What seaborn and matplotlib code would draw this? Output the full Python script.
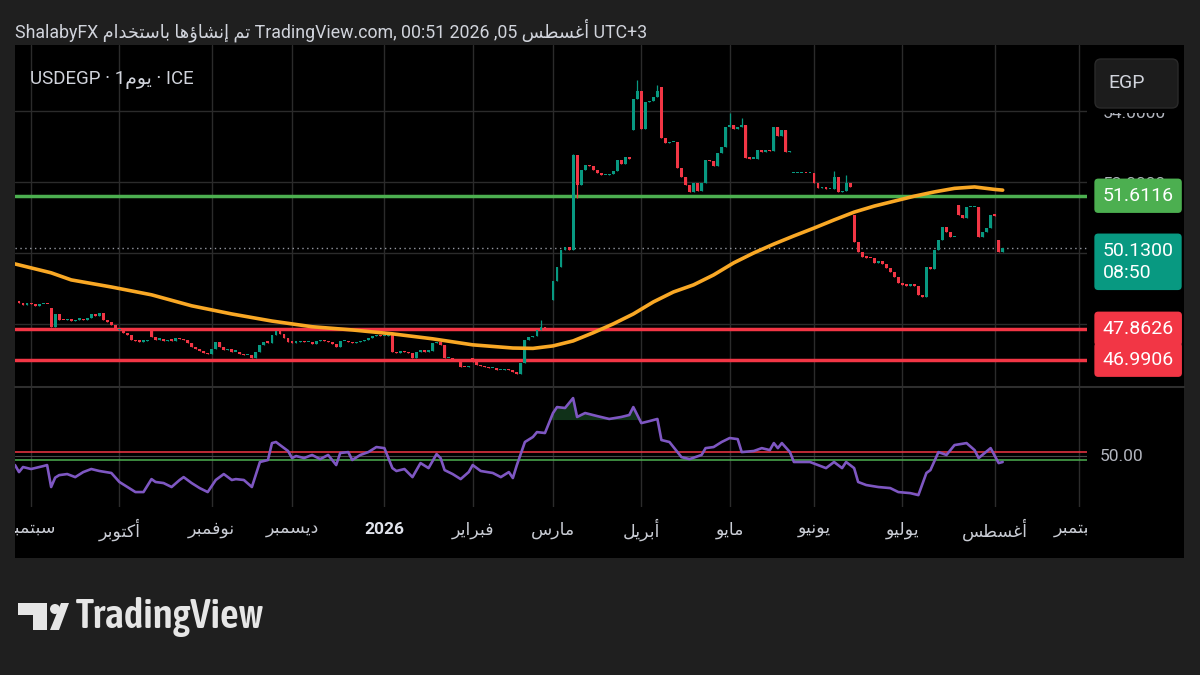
import numpy as np
import pandas as pd
import matplotlib
matplotlib.use("Agg")
import matplotlib.pyplot as plt
import matplotlib.patches as mpatches
from matplotlib import transforms
import seaborn as sns

# ---------------- data ----------------
start_day = "2025-08-27"
closes = [
    48.60, 48.52, 48.58, 48.55, 48.50, 48.55, 48.56, 48.55,
    47.90, 48.28, 48.12, 48.10, 48.14, 48.08, 48.12, 48.15, 48.10, 48.18,
    48.28, 48.22, 48.30, 48.10, 48.06,
    47.98, 47.83, 47.85, 47.75, 47.70, 47.55, 47.52, 47.50, 47.52, 47.55,
    47.62, 47.56, 47.58, 47.52, 47.55, 47.53, 47.60, 47.58, 47.55,
    47.45, 47.35, 47.30, 47.25, 47.18, 47.15,
    47.30, 47.48, 47.35, 47.27, 47.30, 47.22, 47.22, 47.15, 47.12, 47.12, 47.04,
    47.22, 47.40, 47.50, 47.47, 47.70, 47.80, 47.72, 47.60, 47.50,
    47.47, 47.48, 47.52, 47.48, 47.48, 47.42, 47.52, 47.55, 47.52, 47.48,
    47.42, 47.35, 47.52, 47.52, 47.48, 47.45, 47.48, 47.52, 47.55, 47.60,
    47.65, 47.70, 47.66, 47.66, 47.68,
    47.20, 47.18, 47.25, 47.20, 47.17, 47.04, 47.22, 47.26, 47.22, 47.24,
    47.46, 47.50, 47.40, 47.04, 47.04, 47.00, 46.98, 46.79, 46.78, 46.82,
    46.93, 46.85, 46.80, 46.78, 46.76, 46.76, 46.70, 46.70, 46.74, 46.70,
    46.65, 46.60, 46.90, 47.55, 47.63, 47.66, 47.83, 47.92, 47.85, 47.83,
    49.20, 49.60, 50.08, 50.17, 50.08, 52.75, 51.92, 52.34, 52.48, 52.45,
    52.34, 52.25, 52.20, 52.20, 52.22, 52.30, 52.62, 52.50, 52.70, 52.66,
    54.35, 54.55, 53.50, 54.25, 54.28, 54.40, 54.55, 53.24, 53.10, 53.12,
    53.13, 52.39, 52.15, 51.92, 51.72, 51.97, 51.74, 51.97, 52.62, 52.58,
    52.45, 52.81, 52.98, 53.55, 53.60, 53.50, 53.55, 53.60, 52.68, 52.66,
    52.66, 52.90, 52.85, 52.90, 52.88, 53.55, 53.30, 53.46, 52.85, 52.88,
    52.25, 52.25, 52.26, 52.25, 52.25, 51.97, 51.83, 51.85, 51.80, 51.80,
    52.15, 51.72, 51.75, 51.97, 51.85, 50.31, 50.03, 49.89, 49.87, 49.86,
    49.72, 49.76, 49.68, 49.58, 49.47, 49.33, 49.15, 49.10, 49.08, 49.10,
    49.08, 48.82, 48.77, 49.60, 49.56, 50.08, 50.37, 50.73, 50.60, 50.45,
    50.45, 51.08, 50.99, 51.30, 51.30, 51.30, 50.45, 50.60, 50.70, 51.07,
    51.05, 50.03, 50.13,
]
first_open = 48.62
gap_open = {8: 48.45, 33: 47.82, 113: 47.03, 133: 48.68, 153: 53.46,
            160: 54.68, 193: 52.25, 198: 52.25, 208: 51.07, 234: 51.35, 244: 50.37}
wick_high = {130: 48.10, 138: 52.80, 154: 54.87, 159: 54.73, 177: 53.95,
             180: 53.80, 203: 52.30, 206: 52.20}
wick_low = {139: 51.55}

ma_pos = [-1, 8, 13, 23, 33, 43, 53, 63, 73, 83, 93, 103, 113, 123, 128, 133,
          138, 143, 148, 153, 158, 163, 168, 173, 178, 183, 188, 193, 198, 203,
          208, 213, 218, 223, 228, 233, 238, 243, 245]
ma_val = [49.69, 49.44, 49.24, 49.04, 48.82, 48.51, 48.28, 48.08, 47.92, 47.83,
          47.72, 47.58, 47.41, 47.32, 47.31, 47.38, 47.52, 47.75, 48.00, 48.28,
          48.62, 48.90, 49.10, 49.38, 49.72, 50.00, 50.25, 50.48, 50.70, 50.93,
          51.15, 51.32, 51.46, 51.60, 51.72, 51.82, 51.86, 51.79, 51.77]

rsi_pos = [-1, 0, 1, 3, 6, 7, 8, 9, 10, 12, 14, 16, 18, 20, 23, 25, 27, 29, 31,
           33, 34, 36, 38, 40, 41, 43, 45, 47, 49, 51, 53, 54, 56, 58, 60, 62,
           63, 64, 67, 68, 69, 71, 73, 75, 77, 79, 80, 82, 83, 85, 87, 89, 91,
           93, 94, 96, 98, 100, 102, 104, 105, 106, 108, 110, 112, 113, 115,
           118, 120, 122, 123, 124, 126, 128, 129, 131, 133, 134, 136, 138,
           139, 141, 144, 147, 150, 152, 153, 155, 157, 159, 160, 162, 164,
           165, 167, 170, 171, 173, 175, 177, 179, 180, 183, 185, 187, 188,
           189, 190, 192, 193, 197, 199, 201, 203, 205, 206, 208, 209, 211,
           214, 217, 219, 222, 224, 226, 227, 229, 231, 233, 236, 238, 239,
           242, 244, 245]
rsi_val = [45.0, 41.1, 43.9, 42.8, 44.4, 45.0, 32.8, 38.0, 39.4, 40.0, 38.3,
           41.1, 42.8, 41.7, 40.6, 35.6, 32.8, 30.0, 30.0, 37.2, 35.6, 35.0,
           32.8, 36.7, 38.3, 35.0, 32.2, 30.0, 36.7, 40.0, 36.7, 37.2, 36.7,
           32.8, 46.7, 47.8, 57.2, 57.8, 52.8, 48.9, 50.0, 48.9, 50.6, 48.3,
           50.6, 45.0, 51.7, 52.2, 47.8, 50.6, 52.2, 55.0, 54.4, 43.3, 41.7,
           42.8, 38.3, 46.1, 43.3, 51.1, 48.9, 42.2, 40.0, 37.2, 41.1, 45.0,
           41.7, 40.6, 38.3, 41.1, 37.8, 45.0, 57.8, 60.6, 63.3, 62.8, 73.9,
           77.2, 76.7, 82.2, 71.7, 73.9, 72.2, 70.6, 71.7, 72.8, 77.2, 68.3,
           69.4, 70.6, 58.9, 57.8, 52.2, 49.4, 48.3, 50.6, 54.4, 55.0, 57.8,
           60.0, 59.4, 52.2, 52.8, 54.4, 53.3, 57.2, 54.4, 57.2, 52.2, 46.7,
           46.7, 45.0, 43.3, 46.7, 43.3, 46.7, 43.3, 35.6, 33.9, 32.8, 32.2,
           30.0, 29.4, 28.3, 40.6, 42.2, 52.2, 50.6, 56.1, 57.2, 53.3, 48.9,
           54.4, 46.1, 46.7]

level_green = 51.6116
level_red = [47.8626, 46.9906]
last_price = 50.13
last_time = "08:50"
price_grid = [54, 52, 50, 48]
price_labels = [54, 52]          # 50 and 48 sit fully under the price boxes
rsi_bands = {"red": 52.4, "mid": 50.0, "green": 47.8}
month_names = ["سبتمبر", "أكتوبر", "نوفمبر", "ديسمبر", "2026", "فبراير", "مارس",
               "أبريل", "مايو", "يونيو", "يوليو", "أغسطس", "سبتمبر"]

# ---------------- arabic shaping (matplotlib has no bidi) ----------------
FORMS = {
    "ا": ("\uFE8D", "\uFE8E", None, None), "أ": ("\uFE83", "\uFE84", None, None),
    "إ": ("\uFE87", "\uFE88", None, None), "ؤ": ("\uFE85", "\uFE86", None, None),
    "ب": ("\uFE8F", "\uFE90", "\uFE91", "\uFE92"), "ت": ("\uFE95", "\uFE96", "\uFE97", "\uFE98"),
    "خ": ("\uFEA5", "\uFEA6", "\uFEA7", "\uFEA8"), "د": ("\uFEA9", "\uFEAA", None, None),
    "ر": ("\uFEAD", "\uFEAE", None, None), "س": ("\uFEB1", "\uFEB2", "\uFEB3", "\uFEB4"),
    "ش": ("\uFEB5", "\uFEB6", "\uFEB7", "\uFEB8"), "ط": ("\uFEC1", "\uFEC2", "\uFEC3", "\uFEC4"),
    "غ": ("\uFECD", "\uFECE", "\uFECF", "\uFED0"), "ف": ("\uFED1", "\uFED2", "\uFED3", "\uFED4"),
    "ك": ("\uFED9", "\uFEDA", "\uFEDB", "\uFEDC"), "ل": ("\uFEDD", "\uFEDE", "\uFEDF", "\uFEE0"),
    "م": ("\uFEE1", "\uFEE2", "\uFEE3", "\uFEE4"), "ن": ("\uFEE5", "\uFEE6", "\uFEE7", "\uFEE8"),
    "ه": ("\uFEE9", "\uFEEA", "\uFEEB", "\uFEEC"), "و": ("\uFEED", "\uFEEE", None, None),
    "ي": ("\uFEF1", "\uFEF2", "\uFEF3", "\uFEF4"),
}


def ar(s):
    out = []
    for k, ch in enumerate(s):
        if ch not in FORMS:
            out.append(ch)
            continue
        prev = s[k - 1] if k > 0 else ""
        nxt = s[k + 1] if k + 1 < len(s) else ""
        jp = prev in FORMS and FORMS[prev][2] is not None
        jn = FORMS[ch][2] is not None and nxt in FORMS
        iso, fin, ini, med = FORMS[ch]
        out.append(med if jp and jn else fin if jp else ini if jn else iso)
    return "".join(reversed(out))


# ---------------- setup ----------------
sns.set_theme(style="dark", rc={"axes.facecolor": "black", "figure.facecolor": "#1f1f1f"})
plt.rcParams["font.family"] = ["Roboto", "DejaVu Sans"]

W, H = 1200, 675
GREEN, RED, TEAL = "#089981", "#f23645", "#089981"
GRID = "#2b2b2b"
TXT = "#b2b5be"

all_days = pd.bdate_range(start_day, "2026-09-10")
month_pos = [k for k in range(1, len(all_days)) if all_days[k].month != all_days[k - 1].month]

c = np.array(closes)
pos = np.arange(len(c))
o = np.array([first_open] + closes[:-1])
for k, v in gap_open.items():
    o[k] = v
hi = np.maximum(o, c)
lo = np.minimum(o, c)
for k, v in wick_high.items():
    hi[k] = v
for k, v in wick_low.items():
    lo[k] = v
cols = np.where(c >= o, GREEN, RED)

fig = plt.figure(figsize=(12, 6.75), dpi=100)
px = transforms.Affine2D().scale(1 / W, -1 / H).translate(0, 1) + fig.transFigure


def rect(x0, y0, x1, y1):
    return [x0 / W, 1 - y1 / H, (x1 - x0) / W, (y1 - y0) / H]


fig.add_artist(mpatches.Rectangle((15, 45), 1169, 513, transform=px,
                                  facecolor="black", edgecolor="none", zorder=-5))

ax = fig.add_axes(rect(15, 45, 1087, 386))
ax2 = fig.add_axes(rect(15, 388, 1087, 507), sharex=ax)
axt = fig.add_axes(rect(15, 507, 1087, 558), sharex=ax)
axp = fig.add_axes(rect(1087, 45, 1184, 386), sharey=ax)
axr = fig.add_axes(rect(1087, 388, 1184, 507), sharey=ax2)

for a in (ax, ax2, axt, axp, axr):
    a.set_facecolor("black")
    a.tick_params(left=False, bottom=False, labelleft=False, labelbottom=False)
    for s in a.spines.values():
        s.set_visible(False)
    a.grid(False)

ax.set_xlim(-1, 266)
ax.set_ylim(46.25, 55.86)
ax2.set_ylim(21.7, 87.8)
axt.set_ylim(0, 1)
axp.set_xlim(0, 1)
axr.set_xlim(0, 1)

# grid
for m in month_pos:
    ax.axvline(m, color=GRID, lw=1, zorder=0)
    ax2.axvline(m, color=GRID, lw=1, zorder=0)
for t in price_grid:
    ax.axhline(t, color=GRID, lw=1, zorder=0)

# levels
ax.axhline(level_green, color="#4caf50", lw=2.5, zorder=1)
for v in level_red:
    ax.axhline(v, color=RED, lw=2.5, zorder=1)
ax.axhline(last_price, color="#9598a1", lw=1, ls=(0, (1, 2.5)), zorder=1)

# candles
ax.vlines(pos, lo, hi, colors=cols, lw=0.9, zorder=3)
ax.bar(pos, np.maximum(np.abs(c - o), 0.035), bottom=np.minimum(o, c), width=0.72,
       color=cols, linewidth=0, zorder=3)

# moving average
sns.lineplot(x=ma_pos, y=ma_val, ax=ax, color="#f9a825", lw=2.6, zorder=4)

# rsi pane
rp = np.array(rsi_pos)
rv = np.array(rsi_val)
ax2.fill_between(rp, rv, 70, where=rv > 70, interpolate=True, color="#1f5a2e", alpha=0.55, lw=0)
ax2.fill_between(rp, rv, 30, where=rv < 30, interpolate=True, color="#6b1d1d", alpha=0.6, lw=0)
ax2.axhline(rsi_bands["red"], color=RED, lw=1.1)
ax2.axhline(rsi_bands["mid"], color="#4a4a4a", lw=0.8)
ax2.axhline(rsi_bands["green"], color="#4caf50", lw=1.1)
sns.lineplot(x=rp, y=rv, ax=ax2, color="#7e57c2", lw=1.9, zorder=4)
for a in (ax, ax2):
    a.set_xlabel("")
    a.set_ylabel("")

# time axis labels
for m, name in zip(month_pos, month_names):
    bold = name == "2026"
    axt.text(m, 0.55, name if bold else ar(name), ha="center", va="center",
             fontsize=12.5, color="#e0e3eb" if bold else "#c9ccd4",
             fontweight="bold" if bold else "normal", clip_on=True)

# price scale
for t in price_labels:
    axp.text(0.16, t - 0.06, f"{t:.4f}", va="center", ha="left", fontsize=12.5, color=TXT, zorder=2)
box = dict(boxstyle="round,pad=0.42,rounding_size=0.2", ec="none")
axp.text(0.16, level_green, f"{level_green:.4f}", va="center", ha="left", fontsize=14,
         color="white", zorder=5, bbox=dict(box, fc="#4caf50"))
axp.text(0.16, last_price - 0.38, f"{last_price:.4f}\n{last_time}", va="center", ha="left",
         fontsize=14, color="white", linespacing=1.3, zorder=5, bbox=dict(box, fc=TEAL))
for v in level_red:
    axp.text(0.16, v, f"{v:.4f}", va="center", ha="left", fontsize=14,
             color="white", zorder=5, bbox=dict(box, fc=RED))
axr.text(0.13, rsi_bands["mid"], "50.00", va="center", ha="left", fontsize=12.5, color=TXT)

# separator between panes
fig.add_artist(plt.Line2D([15, 1184], [387, 387], transform=px, color="#2e2e2e", lw=1.5))

# currency button (with its black margin that hides the top tick label)
fig.add_artist(mpatches.Rectangle((1088, 50), 95, 63, transform=px,
                                  facecolor="black", edgecolor="none"))
fig.add_artist(mpatches.FancyBboxPatch((1095, 59), 83, 49, boxstyle="round,pad=0,rounding_size=6",
                                       transform=px, facecolor="#1c1c1c", edgecolor="#2a2a2a", lw=1))
fig.text(1108, 83, "EGP", transform=px, va="center", ha="left", fontsize=14, color="#d1d4dc")

# header texts
fig.text(15, 30, "ShalabyFX " + ar("تم إنشاؤها باستخدام") + " TradingView.com, 00:51 2026 ,05 "
         + ar("أغسطس") + " UTC+3", transform=px, va="center", ha="left", fontsize=12.8, color="#d1d4dc")
fig.text(30, 80, "USDEGP · 1" + ar("يوم") + " · ICE", transform=px, va="center", ha="left",
         fontsize=13.5, color="#d1d4dc")

# tradingview logo
LOGO = "#e6e6e6"
fig.add_artist(mpatches.Polygon([(18, 603), (47, 603), (47, 630), (33, 630), (33, 615), (18, 615)],
                                closed=True, transform=px, facecolor=LOGO, edgecolor="none"))
fig.add_artist(mpatches.Circle((55, 609), 5, transform=px, facecolor=LOGO, edgecolor="none"))
fig.add_artist(mpatches.Polygon([(61, 603), (69, 603), (59, 630), (50, 630)],
                                closed=True, transform=px, facecolor=LOGO, edgecolor="none"))
fig.text(76, 617, "TradingView", transform=px, va="center", ha="left", fontsize=29.5,
         fontweight="semibold", color=LOGO, family=["Asap Condensed", "Inter", "DejaVu Sans"])

fig.savefig("out.png", dpi=100, facecolor=fig.get_facecolor())
